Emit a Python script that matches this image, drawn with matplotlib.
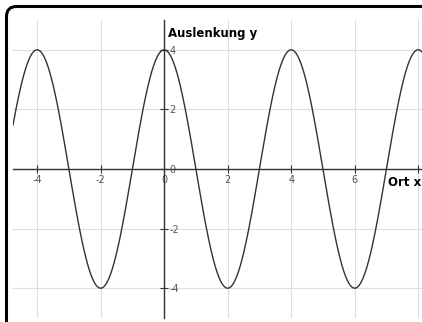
import numpy as np
import matplotlib
matplotlib.use("Agg")
import matplotlib.pyplot as plt
from matplotlib.patches import FancyBboxPatch
from matplotlib.transforms import IdentityTransform

# Chart content
amplitude = 4.0        # Auslenkung
wavelength = 4.0       # distance between peaks
phase_x = 0.0          # a peak sits at x = 0
x_range = (-4.76, 8.12)
y_range = (-5.0, 5.0)
x_ticks = [-4, -2, 0, 2, 4, 6, 8]
x_tick_labels = ["-4", "-2", "0", "2", "4", "6", ""]
y_ticks = [-4, -2, 0, 2, 4]
y_tick_labels = ["-4", "-2", "0", "2", "4"]
x_label = "Ort x"
y_label = "Auslenkung y"

fig = plt.figure(figsize=(4.22, 3.22), dpi=100)
W, H = 422, 322
ax = fig.add_axes([13 / W, 4 / H, 409 / W, 298 / H])

x = np.linspace(x_range[0], x_range[1], 1500)
y = amplitude * np.cos(2 * np.pi * (x - phase_x) / wavelength)
ax.plot(x, y, color="#333333", lw=1.0, zorder=3)

ax.set_xlim(*x_range)
ax.set_ylim(*y_range)

ax.spines["top"].set_visible(False)
ax.spines["left"].set_visible(False)
ax.spines["bottom"].set_position(("data", 0))
ax.spines["right"].set_position(("data", 0))
for s in ("bottom", "right"):
    ax.spines[s].set_color("#333333")
    ax.spines[s].set_linewidth(1.0)
ax.yaxis.set_ticks_position("right")
ax.xaxis.set_ticks_position("bottom")

ax.set_xticks(x_ticks)
ax.set_xticklabels(x_tick_labels)
ax.set_yticks(y_ticks)
ax.set_yticklabels(y_tick_labels)
ax.tick_params(direction="inout", length=6, width=0.8, color="#333333",
               labelsize=7, labelcolor="#555555", pad=1)

ax.grid(True, color="#dddddd", lw=0.8, zorder=0)
ax.set_axisbelow(True)
ax.patch.set_alpha(0)

ax.text(0.12, 4.56, y_label, fontsize=8.5, fontweight="bold", ha="left",
        va="center", color="black")
ax.text(x_range[1] - 0.02, -0.25, x_label, fontsize=8.5, fontweight="bold",
        ha="right", va="top", color="black")

frame = FancyBboxPatch((6.5, -30), 460, 315.5 + 30, transform=IdentityTransform(),
                       boxstyle="round,pad=0,rounding_size=10",
                       fill=False, edgecolor="black", lw=2.2)
fig.add_artist(frame)

fig.savefig("out.png", dpi=100)
